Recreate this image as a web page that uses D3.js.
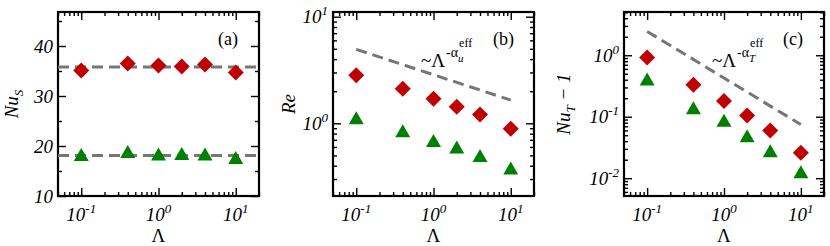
<!DOCTYPE html>
<html>
<head>
<meta charset="utf-8">
<script src="https://cdn.jsdelivr.net/npm/d3@7"></script>
<style>
  body { margin: 0; background: #fff; }
  svg { display: block; }
</style>
</head>
<body>
<svg id="chart" width="830" height="246"></svg>
<script>
/*** DATA ***/
const lambdaVals = [0.1, 0.4, 1, 2, 4, 10];

// (a) Nu_S
const nuSRed   = [35.1, 36.5, 36.1, 35.9, 36.3, 34.7];
const nuSGreen = [18.3, 18.9, 18.4, 18.5, 18.4, 17.7];
const nuSMeanRed = 35.8;
const nuSMeanGreen = 18.1;

// (b) Re
const reRed   = [2.82, 2.11, 1.70, 1.43, 1.21, 0.89];
const reGreen = [1.13, 0.85, 0.69, 0.60, 0.50, 0.38];
const reFitX = [0.1, 10];
const reFitY = [4.94, 1.65];

// (c) Nu_T - 1
const nuTRed   = [0.92, 0.33, 0.18, 0.105, 0.060, 0.026];
const nuTGreen = [0.41, 0.14, 0.088, 0.049, 0.028, 0.0128];
const nuTFitX = [0.1, 10];
const nuTFitY = [2.44, 0.0746];

const xLimits = [0.05, 20];
const xMajor = [0.1, 1, 10];
const xMajorExp = ["-1", "0", "1"];

/*** STYLE ***/
const redCol = "#c00000";
const greenCol = "#008000";
const dashCol = "#767676";
const serif = "'Liberation Serif', 'Times New Roman', serif";
const fsTick = 19, fsSup = 13;

const svg = d3.select("#chart").attr("font-family", serif);

function isDecade(v) {
  const l = Math.log10(v);
  return Math.abs(l - Math.round(l)) < 1e-9;
}

function diamond(s) {
  return `M0,${-s}L${s},0L0,${s}L${-s},0Z`;
}
function triangle(w, h) {
  return `M0,${-h / 2}L${w / 2},${h / 2}L${-w / 2},${h / 2}Z`;
}

// inward ticks on one side
function tickSide(g, axisFn, scale, values, len, transform) {
  const ax = axisFn(scale).tickValues(values).tickSizeInner(-len).tickSizeOuter(0).tickFormat("");
  const a = g.append("g").attr("transform", transform).call(ax);
  a.select(".domain").remove();
  a.selectAll("line").attr("stroke", "#000").attr("stroke-width", 1.4);
}

function powerText(t, sup) {
  t.append("tspan").text("10");
  t.append("tspan").attr("font-size", fsSup).attr("dy", -8).text(sup);
}

function txt(g) {
  return g.append("text").attr("font-family", serif).attr("fill", "#000");
}

function drawPanel(p) {
  const g = svg.append("g");
  const x = d3.scaleLog().domain(xLimits).range([p.left, p.right]);
  const y = p.yLog
    ? d3.scaleLog().domain(p.yDomain).range([p.bottom, p.top])
    : d3.scaleLinear().domain(p.yDomain).range([p.bottom, p.top]);

  // ticks
  const xt = x.ticks();
  const xMaj = xt.filter(isDecade), xMin = xt.filter(v => !isDecade(v));
  let yMaj, yMin;
  if (p.yLog) {
    const yt = y.ticks();
    yMaj = yt.filter(isDecade); yMin = yt.filter(v => !isDecade(v));
  } else {
    const yt = y.ticks(8);
    yMaj = yt.filter(v => v % 10 === 0); yMin = yt.filter(v => v % 10 !== 0);
  }
  [[xMaj, 8], [xMin, 4]].forEach(([vals, len]) => {
    tickSide(g, d3.axisBottom, x, vals, len, `translate(0,${p.bottom})`);
    tickSide(g, d3.axisTop, x, vals, len, `translate(0,${p.top})`);
  });
  [[yMaj, 8], [yMin, 4]].forEach(([vals, len]) => {
    tickSide(g, d3.axisLeft, y, vals, len, `translate(${p.left},0)`);
    tickSide(g, d3.axisRight, y, vals, len, `translate(${p.right},0)`);
  });

  // frame
  g.append("rect")
    .attr("x", p.left).attr("y", p.top)
    .attr("width", p.right - p.left).attr("height", p.bottom - p.top)
    .attr("fill", "none").attr("stroke", "#000").attr("stroke-width", 2.2);

  // x tick labels
  xMajor.forEach((v, i) => {
    const t = txt(g).attr("x", x(v)).attr("y", p.bottom + 25)
      .attr("text-anchor", "middle").attr("font-style", "italic").attr("font-size", fsTick);
    powerText(t, xMajorExp[i]);
  });

  // y tick labels
  p.yLabels.forEach((v, i) => {
    const t = txt(g).attr("x", p.left - 5).attr("y", y(v) + 6.5)
      .attr("text-anchor", "end").attr("font-style", "italic").attr("font-size", fsTick);
    if (p.yLog) powerText(t, p.yLabelExp[i]);
    else t.text(v);
  });

  // axis titles
  txt(g).attr("x", (p.left + p.right) / 2).attr("y", 242)
    .attr("text-anchor", "middle").attr("font-size", 19).text("Λ");
  const yt = txt(g)
    .attr("transform", `translate(${p.titleX},104) rotate(-90)`)
    .attr("text-anchor", "middle").attr("font-style", "italic").attr("font-size", 19);
  p.title(yt);

  // panel letter
  txt(g).attr("x", p.right - 41).attr("y", 45).attr("font-size", 18).text(p.letter);

  // dashed lines
  const dash = d3.line().x(d => x(d[0])).y(d => y(d[1]));
  p.fits.forEach(f => {
    g.append("path").attr("d", dash(f))
      .attr("fill", "none").attr("stroke", dashCol)
      .attr("stroke-width", 3).attr("stroke-dasharray", "11,6");
  });

  if (p.fitLabel) p.fitLabel(g);

  // markers
  g.selectAll(".red").data(p.red).join("path")
    .attr("transform", (d, i) => `translate(${x(lambdaVals[i])},${y(d)})`)
    .attr("d", diamond(8)).attr("fill", redCol);
  g.selectAll(".green").data(p.green).join("path")
    .attr("transform", (d, i) => `translate(${x(lambdaVals[i])},${y(d)})`)
    .attr("d", triangle(15, 13)).attr("fill", greenCol);
}

function alphaLabel(x0, y0, subLetter) {
  return function (g) {
    const t1 = txt(g).attr("x", x0).attr("y", y0).attr("font-size", 19).text("~Λ");
    const w1 = t1.node().getComputedTextLength();
    const t2 = txt(g).attr("x", x0 + w1 + 1).attr("y", y0 - 10).attr("font-size", 14).text("-α");
    const w2 = t2.node().getComputedTextLength();
    txt(g).attr("x", x0 + w1 + w2 + 1).attr("y", y0 - 5)
      .attr("font-size", 11).attr("font-style", "italic").text(subLetter);
    txt(g).attr("x", x0 + w1 + w2 + 2).attr("y", y0 - 20)
      .attr("font-size", 12).text("eff");
  };
}

drawPanel({
  left: 58, right: 259, top: 12, bottom: 196,
  yLog: false, yDomain: [10, 46.8],
  yLabels: [10, 20, 30, 40],
  letter: "(a)", titleX: 18,
  title: t => { t.append("tspan").text("Nu"); t.append("tspan").attr("font-size", 13).attr("dy", 5).text("S"); },
  red: nuSRed, green: nuSGreen,
  fits: [[[xLimits[0], nuSMeanRed], [xLimits[1], nuSMeanRed]],
         [[xLimits[0], nuSMeanGreen], [xLimits[1], nuSMeanGreen]]]
});

drawPanel({
  left: 333, right: 534, top: 12, bottom: 196,
  yLog: true, yDomain: [0.208, 11.07],
  yLabels: [1, 10], yLabelExp: ["0", "1"],
  letter: "(b)", titleX: 295,
  title: t => t.text("Re"),
  red: reRed, green: reGreen,
  fits: [reFitX.map((v, i) => [v, reFitY[i]])],
  fitLabel: alphaLabel(421, 67, "u")
});

drawPanel({
  left: 624, right: 824, top: 12, bottom: 196,
  yLog: true, yDomain: [0.00514, 5.05],
  yLabels: [0.01, 0.1, 1], yLabelExp: ["-2", "-1", "0"],
  letter: "(c)", titleX: 570,
  title: t => {
    t.append("tspan").text("Nu");
    t.append("tspan").attr("font-size", 13).attr("dy", 5).text("T");
    t.append("tspan").attr("dy", -5).text(" − 1");
  },
  red: nuTRed, green: nuTGreen,
  fits: [nuTFitX.map((v, i) => [v, nuTFitY[i]])],
  fitLabel: alphaLabel(712, 67, "T")
});
</script>
</body>
</html>
